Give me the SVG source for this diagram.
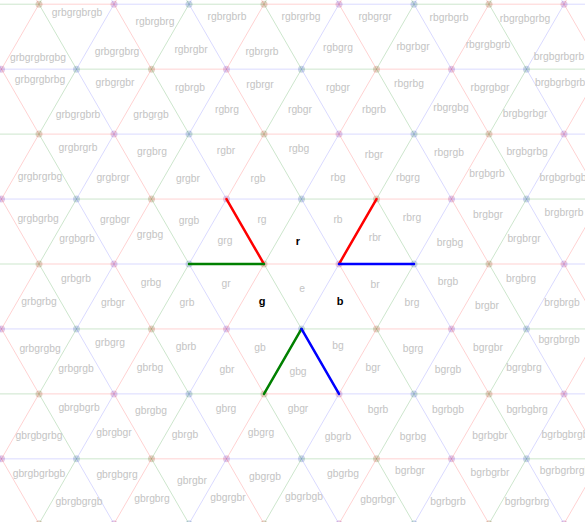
<svg xmlns="http://www.w3.org/2000/svg" xmlns:xlink="http://www.w3.org/1999/xlink" width="585" height="522" viewBox="0 0 585 522">
<style>
.lr{fill:none;stroke:#ff0000;stroke-opacity:.18;stroke-width:1}
.lg{fill:none;stroke:#008000;stroke-opacity:.2;stroke-width:1}
.lb{fill:none;stroke:#0000ff;stroke-opacity:.15;stroke-width:1}
.vrg{fill:#804000;fill-opacity:.22}
.vrb{fill:#800080;fill-opacity:.2}
.vgb{fill:#004080;fill-opacity:.2}
.br{stroke:#ff0000;stroke-width:2.5;stroke-linecap:round}
.bg{stroke:#008000;stroke-width:2.5;stroke-linecap:round}
.bb{stroke:#0000ff;stroke-width:2.5;stroke-linecap:round}
text{font-family:"Liberation Sans",Arial,Helvetica,sans-serif;font-size:10.3px;fill:#c4c4c4;text-anchor:middle}
text.k{fill:#000000;font-weight:bold;font-size:11px}
</style>
<defs>
<g id="tile">
<path class="lr" d="M39 0H114M151.5 64.952H226.5M1.5 -64.952L39 0L1.5 64.952M151.5 -64.952L114 0L151.5 64.952"/>
<path class="lg" d="M189 0H264M76.5 64.952H151.5M76.5 -64.952L39 0L76.5 64.952M151.5 -64.952L189 0L151.5 64.952"/>
<path class="lb" d="M114 0H189M1.5 64.952H76.5M76.5 -64.952L114 0L76.5 64.952M226.5 -64.952L189 0L226.5 64.952"/>
<circle class="vrg" cx="39" cy="0" r="3.5"/>
<circle class="vrb" cx="114" cy="0" r="3.5"/>
<circle class="vgb" cx="189" cy="0" r="3.5"/>
<circle class="vrb" cx="1.5" cy="64.952" r="3.5"/>
<circle class="vgb" cx="76.5" cy="64.952" r="3.5"/>
<circle class="vrg" cx="151.5" cy="64.952" r="3.5"/>
</g>
</defs>
<rect width="585" height="522" fill="#ffffff"/>
<g id="lattice">
<use xlink:href="#tile" x="-225" y="4.192"/><use xlink:href="#tile" x="0" y="4.192"/><use xlink:href="#tile" x="225" y="4.192"/><use xlink:href="#tile" x="450" y="4.192"/>
<use xlink:href="#tile" x="-225" y="134.096"/><use xlink:href="#tile" x="0" y="134.096"/><use xlink:href="#tile" x="225" y="134.096"/><use xlink:href="#tile" x="450" y="134.096"/>
<use xlink:href="#tile" x="-225" y="264"/><use xlink:href="#tile" x="0" y="264"/><use xlink:href="#tile" x="225" y="264"/><use xlink:href="#tile" x="450" y="264"/>
<use xlink:href="#tile" x="-225" y="393.904"/><use xlink:href="#tile" x="0" y="393.904"/><use xlink:href="#tile" x="225" y="393.904"/><use xlink:href="#tile" x="450" y="393.904"/>
<use xlink:href="#tile" x="-225" y="523.808"/><use xlink:href="#tile" x="0" y="523.808"/><use xlink:href="#tile" x="225" y="523.808"/><use xlink:href="#tile" x="450" y="523.808"/>
</g>
<g id="connectors">
<line class="br" x1="226.5" y1="199.048" x2="264" y2="264"/>
<line class="bg" x1="189" y1="264" x2="264" y2="264"/>
<line class="br" x1="339" y1="264" x2="376.5" y2="199.048"/>
<line class="bb" x1="339" y1="264" x2="414" y2="264"/>
<line class="bg" x1="301.5" y1="328.952" x2="264" y2="393.904"/>
<line class="bb" x1="301.5" y1="328.952" x2="339" y2="393.904"/>
</g>
<g id="labels">
<text x="77" y="16">grbgrgbrgb</text>
<text x="155" y="25">rgbrgbrg</text>
<text x="227" y="20">rgbrgbrb</text>
<text x="301" y="20">rgbrgrbg</text>
<text x="375" y="20">rgbgrgr</text>
<text x="449" y="21">rbgrbgrb</text>
<text x="525" y="22">rbgrgbgrbg</text>
<text x="38" y="61">grbgrgbrgbg</text>
<text x="117" y="55">grbgrgbrg</text>
<text x="191" y="53">rgbrgbr</text>
<text x="262" y="55">rgbrgrb</text>
<text x="338" y="51">rgbgrg</text>
<text x="413" y="50">rbgrbgr</text>
<text x="488" y="48">rbgrgbgrb</text>
<text x="559" y="60">brgbgrbgrb</text>
<text x="40" y="83">grbgrgbrbg</text>
<text x="115" y="86">grbgrgbr</text>
<text x="190" y="91">rgbrgb</text>
<text x="260" y="88">rgbrgr</text>
<text x="338" y="91">rgbgr</text>
<text x="409" y="87">rbgrbg</text>
<text x="490" y="91">rbgrgbgr</text>
<text x="563" y="86">brgbgrbgrbg</text>
<text x="78" y="118">grbgrgbrb</text>
<text x="151" y="118">grbgrgb</text>
<text x="227" y="113">rgbrg</text>
<text x="300" y="113">rgbgr</text>
<text x="374" y="113">rbgrb</text>
<text x="451" y="111">rbgrgbg</text>
<text x="525" y="117">brgbgrbgr</text>
<text x="78" y="151">grgbrgrb</text>
<text x="152" y="155">grgbrg</text>
<text x="226" y="154">rgbr</text>
<text x="299" y="152">rgbg</text>
<text x="374" y="158">rbgr</text>
<text x="449" y="156">rbgrgb</text>
<text x="527" y="155">brgbgrbg</text>
<text x="40" y="180">grgbrgrbg</text>
<text x="113" y="181">grgbrgr</text>
<text x="188" y="182">grgbr</text>
<text x="258" y="182">rgb</text>
<text x="338" y="181">rbg</text>
<text x="408" y="181">rbgrg</text>
<text x="487" y="177">brgbgrb</text>
<text x="563" y="181">brgbgrbgb</text>
<text x="38" y="222">grgbgrbg</text>
<text x="115" y="223">grgbgr</text>
<text x="189" y="224">grgb</text>
<text x="262" y="223">rg</text>
<text x="338" y="223">rb</text>
<text x="412" y="221">rbrg</text>
<text x="488" y="218">brgbgr</text>
<text x="564" y="216">brgbrgrb</text>
<text x="77" y="242">grgbgrb</text>
<text x="150" y="238">grgbg</text>
<text x="225" y="244">grg</text>
<text class="k" x="298" y="245">r</text>
<text x="375" y="241">rbr</text>
<text x="450" y="246">brgbg</text>
<text x="524" y="242">brgbrgr</text>
<text x="76" y="282">grbgrb</text>
<text x="151" y="286">grbg</text>
<text x="226" y="287">gr</text>
<text x="302" y="292">e</text>
<text x="375" y="288">br</text>
<text x="448" y="285">brgb</text>
<text x="521" y="282">brgbrg</text>
<text x="39" y="305">grbgrbg</text>
<text x="113" y="306">grbgr</text>
<text x="187" y="306">grb</text>
<text class="k" x="262" y="305">g</text>
<text class="k" x="340" y="305">b</text>
<text x="412" y="306">brg</text>
<text x="487" y="309">brgbr</text>
<text x="562" y="306">brgbrgb</text>
<text x="40" y="352">grbgrgbg</text>
<text x="110" y="346">grbgrg</text>
<text x="186" y="350">gbrb</text>
<text x="260" y="351">gb</text>
<text x="338" y="349">bg</text>
<text x="413" y="352">bgrg</text>
<text x="488" y="351">bgrgbr</text>
<text x="559" y="343">bgrgbrgb</text>
<text x="76" y="372">grbgrgb</text>
<text x="150" y="371">gbrbg</text>
<text x="227" y="373">gbr</text>
<text x="298" y="375">gbg</text>
<text x="373" y="371">bgr</text>
<text x="448" y="373">bgrgb</text>
<text x="524" y="371">bgrgbrg</text>
<text x="79" y="411">gbrgbgrb</text>
<text x="151" y="414">gbrgbg</text>
<text x="226" y="412">gbrg</text>
<text x="298" y="412">gbgr</text>
<text x="378" y="413">bgrb</text>
<text x="448" y="413">bgrbgb</text>
<text x="527" y="413">bgrbgbrg</text>
<text x="39" y="439">gbrgbgrbg</text>
<text x="114" y="436">gbrgbgr</text>
<text x="185" y="438">gbrgb</text>
<text x="261" y="436">gbgrg</text>
<text x="338" y="440">gbgrb</text>
<text x="413" y="440">bgrbg</text>
<text x="490" y="439">bgrbgbr</text>
<text x="565" y="438">bgrbgbrgb</text>
<text x="39" y="477">gbrgbgrbgb</text>
<text x="117" y="478">gbrgbgrg</text>
<text x="192" y="484">gbrgbr</text>
<text x="265" y="480">gbgrgb</text>
<text x="343" y="477">gbgrbg</text>
<text x="410" y="474">bgrbgr</text>
<text x="490" y="476">bgrbgrbr</text>
<text x="565" y="474">bgrbgrbrgb</text>
<text x="79" y="505">gbrgbgrgb</text>
<text x="152" y="502">gbrgbrg</text>
<text x="228" y="501">gbgrgbr</text>
<text x="304" y="500">gbgrbgb</text>
<text x="378" y="503">gbgrbgr</text>
<text x="448" y="505">bgrbgrb</text>
<text x="527" y="505">bgrbgrbrg</text>
</g>
</svg>
